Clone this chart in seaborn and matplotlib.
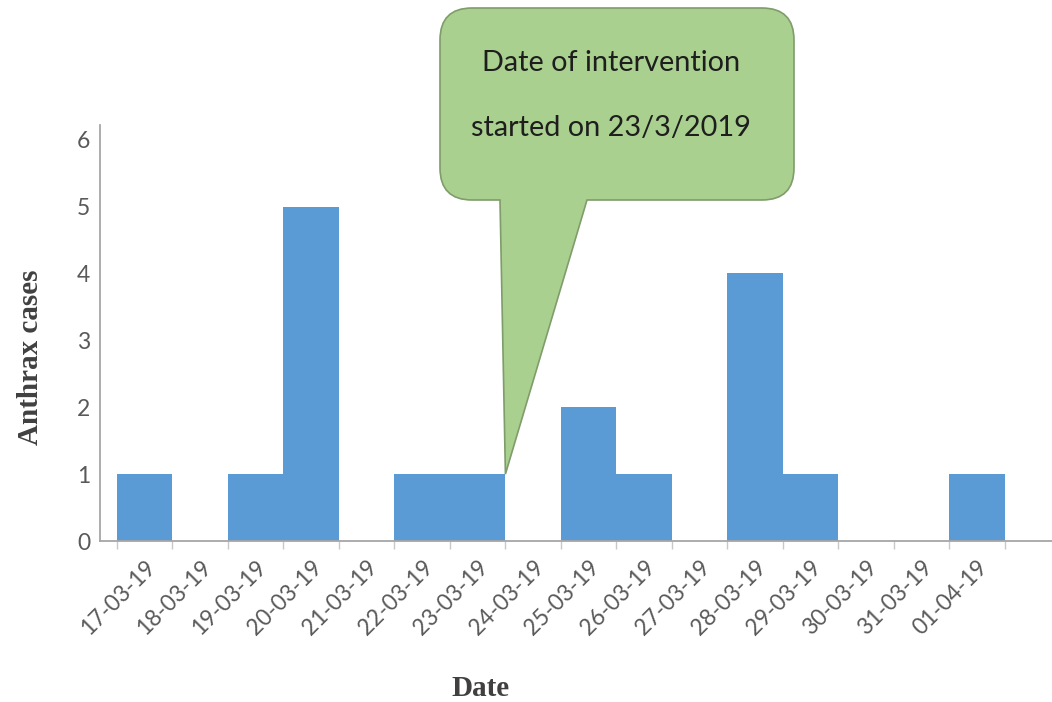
import matplotlib
matplotlib.use("Agg")
import matplotlib.pyplot as plt
from matplotlib.path import Path
from matplotlib.patches import PathPatch
from matplotlib.transforms import IdentityTransform
import numpy as np
import pandas as pd
import seaborn as sns

# Daily anthrax case counts
dates = ["17-03-19", "18-03-19", "19-03-19", "20-03-19", "21-03-19", "22-03-19",
         "23-03-19", "24-03-19", "25-03-19", "26-03-19", "27-03-19", "28-03-19",
         "29-03-19", "30-03-19", "31-03-19", "01-04-19"]
cases = [1, 0, 1, 5, 0, 1, 1, 0, 2, 1, 0, 4, 1, 0, 0, 1]
y_ticks = [0, 1, 2, 3, 4, 5, 6]

intervention_date = "23-03-19"
callout_lines = ["Date of intervention", "started on 23/3/2019"]

sns.set_theme(style="white")
plt.rcParams["font.family"] = ["Lato", "DejaVu Sans"]

W, H = 1052, 702
fig = plt.figure(figsize=(W / 100, H / 100), dpi=100)
ax = fig.add_axes([100 / W, (H - 541) / H, (W - 100) / W, (541 - 125) / H])

df = pd.DataFrame({"Date": dates, "Anthrax cases": cases})
sns.barplot(data=df, x="Date", y="Anthrax cases", color="#5b9bd5",
            saturation=1, width=1.0, linewidth=0, ax=ax)

ax.set_xlim(-0.806, 16.35)
ax.set_ylim(0, 6.22)
ax.set_yticks(y_ticks)
ax.set_yticklabels([str(v) for v in y_ticks])

for side in ("top", "right"):
    ax.spines[side].set_visible(False)
for side in ("left", "bottom"):
    ax.spines[side].set_color("#a6a6a6")
    ax.spines[side].set_linewidth(1.3)

ax.set_xticks(range(len(dates)))
ax.set_xticklabels(dates, rotation=45, ha="right", rotation_mode="anchor",
                   fontsize=16.3, color="#595959")
ax.set_xticks(np.arange(-0.5, len(dates), 1.0), minor=True)
ax.tick_params(axis="x", which="major", length=0, pad=11)
ax.tick_params(axis="x", which="minor", length=6, width=1, color="#c8c8c8",
               direction="out", bottom=True)
ax.tick_params(axis="y", length=0, pad=7, labelsize=16.5, labelcolor="#595959")

ax.set_xlabel("Date", fontfamily=["Liberation Serif"], fontweight="bold",
              fontsize=21, color="#404040", va="center")
ax.xaxis.set_label_coords((480 - 100) / (W - 100), -(688 - 541) / (541 - 125))
ax.set_ylabel("Anthrax cases", fontfamily=["Liberation Serif"], fontweight="bold",
              fontsize=21, color="#404040", va="center", ha="center")
ax.yaxis.set_label_coords(-(100 - 31) / (W - 100), (541 - 357) / (541 - 125))

# Speech-bubble callout pointing at the intervention day
idx = dates.index(intervention_date)
tip_x, tip_y = ax.transData.transform((idx + 0.5, cases[idx]))
L, R, T, B, r = 440, 794, H - 8, H - 200, 32
tail_l, tail_r = 500, 587
verts = [
    (L + r, T), (R - r, T), (R, T), (R, T - r), (R, B + r), (R, B), (R - r, B),
    (tail_r, B), (tip_x, tip_y), (tail_l, B), (L + r, B), (L, B), (L, B + r),
    (L, T - r), (L, T), (L + r, T), (L + r, T),
]
codes = [
    Path.MOVETO, Path.LINETO, Path.CURVE3, Path.CURVE3, Path.LINETO, Path.CURVE3,
    Path.CURVE3, Path.LINETO, Path.LINETO, Path.LINETO, Path.LINETO, Path.CURVE3,
    Path.CURVE3, Path.LINETO, Path.CURVE3, Path.CURVE3, Path.CLOSEPOLY,
]
bubble = PathPatch(Path(verts, codes), facecolor="#a9d08e", edgecolor="#7f9c6b",
                   linewidth=1.2, transform=IdentityTransform(), zorder=5)
fig.add_artist(bubble)
for text, y in zip(callout_lines, (H - 63, H - 128)):
    fig.text(611 / W, y / H, text, ha="center", va="center", fontsize=20.8,
             color="#1e1e1e", zorder=6)

fig.savefig("out.png", dpi=100)
